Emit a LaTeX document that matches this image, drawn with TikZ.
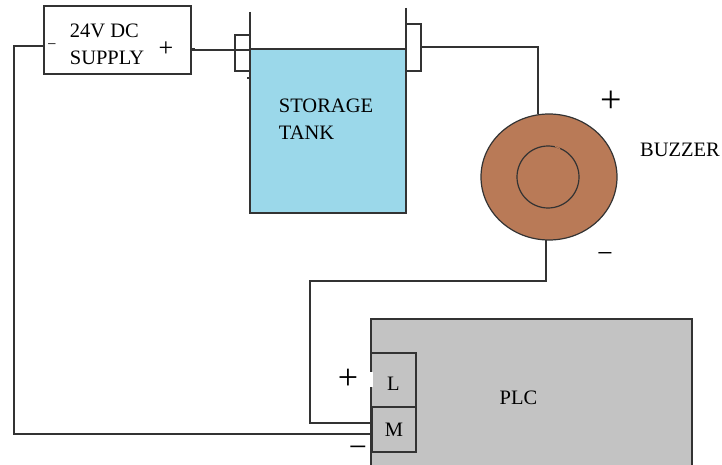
\documentclass[tikz,border=0pt]{standalone}
\usepackage{fontspec}
\setmainfont{Liberation Serif}
\usetikzlibrary{shapes.geometric}
\definecolor{tankblue}{HTML}{9BD8EA}
\definecolor{buzzerbrown}{HTML}{B97A57}
\definecolor{plcgray}{HTML}{C3C3C3}
\begin{document}
\begin{tikzpicture}[x=1pt, y=-1pt, line width=1.2pt, color={black!80},
		every node/.style = {inner sep=0pt, outer sep=0pt, text=black, align=left,
			font=\fontsize{20.5}{27}\selectfont},
		box/.style = {shape=rectangle, draw, minimum width=#1},
		sign/.style = {font=\fontsize{#1}{#1}\selectfont}]
		\useasboundingbox (0,0) rectangle (722,465);
		\fill[white] (0,0) rectangle (722,465);
		% clamps are behind the tank
		\node[box=15, minimum height=36, anchor=north west] (clampleft) at (235,35) {};
		\node[box=15, minimum height=47, anchor=north west] (clampright) at (406,24) {};
		\node[box=147, minimum height=68, anchor=north west, fill=white] (supply) at (44,6) {};
		\node[box=156, minimum height=164, anchor=north west, fill=tankblue] (tank) at (250,49) {};
		\node[box=321, minimum height=149, anchor=north west, fill=plcgray] (plc) at (371,319) {};
		\node[box=45, minimum height=54, anchor=north west, fill=plcgray] (lbox) at (371,353) {\raisebox{-10pt}[0pt][0pt]{L}};
		\node[box=44, minimum height=45, anchor=north west, fill=plcgray, line width=1.6pt] (mbox) at (372,407) {M};
		\node[shape=ellipse, draw, fill=buzzerbrown, minimum width=136, minimum height=126] (buzzer) at (549,177) {};
		\node[shape=circle, draw, minimum size=62] (coil) at (548,177) {};
		\draw[buzzerbrown] (555,146.5) -- (560,148.5);
		\fill[white] (368.5,372) rectangle (372.5,387); %gap in the PLC edge
		% tank walls
		\coordinate (wallleft) at (250,12);
		\coordinate (wallright) at (406,8);
		\draw (wallleft) -- (tank.north west);
		\draw (wallright) -- (tank.north east);
		\draw (247,78) -- (tank.west |- 0,78);
		% wiring
		\coordinate (supplyminus) at (44,46);
		\coordinate (supplyplus) at (191,50);
		\coordinate (mleft) at (372,434);
		\coordinate (mtop) at (372,423);
		\coordinate (clampout) at (421,47);
		\coordinate (buzzerin) at (538,114);
		\coordinate (buzzerout) at (546,240);
		\draw (supplyminus) -- (14,46) |- (mleft);
		\draw (supplyplus) -- (supplyplus -| tank.west);
		\fill (191,48.5) rectangle (195,51.5);
		\draw (clampout) -| (buzzerin);
		\draw (buzzerout) |- (310,281) |- (mtop);
		% labels
		\node (supplytext) at (107,44) {24V DC\\SUPPLY};
		\node (tanktext) at (326,119) {STORAGE\\TANK};
		\node (buzzertext) at (680,150) {BUZZER};
		\node (plctext) at (518.5,398) {PLC};
		\node[sign=16] (supplyneg) at (52,47) {−};
		\node[sign=26] (supplypos) at (166,49) {+};
		\node[sign=38] (buzzerpos) at (611,102) {+};
		\node[sign=28] (buzzerneg) at (605,258) {−};
		\node[sign=36] (plcpos) at (348,379) {+};
		\node[sign=32] (plcneg) at (358,452) {−};
	\end{tikzpicture}
\end{document}
